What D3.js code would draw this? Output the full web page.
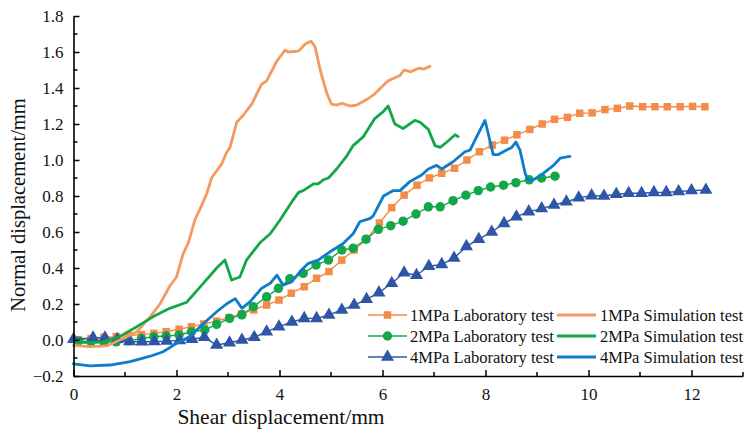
<!DOCTYPE html>
<html>
<head>
<meta charset="utf-8">
<script src="https://cdn.jsdelivr.net/npm/d3@7/dist/d3.min.js"></script>
<style>
  html, body { margin: 0; padding: 0; background: #fff; }
  svg { display: block; }
  text { font-family: "Liberation Serif", "Times New Roman", serif; fill: #111; }
</style>
</head>
<body>
<svg id="chart" width="746" height="434"></svg>
<script>
// Shear displacement (mm) vs normal displacement (mm)

// 1 MPa laboratory test
const lab1X = [0.10, 0.34, 0.59, 0.83, 1.07, 1.32, 1.56, 1.80, 2.05, 2.29, 2.53, 2.78, 3.02, 3.26, 3.50, 3.75, 3.99, 4.23, 4.48, 4.72, 4.96, 5.21, 5.45, 5.69, 5.94, 6.18, 6.42, 6.67, 6.91, 7.15, 7.40, 7.64, 7.88, 8.13, 8.37, 8.61, 8.86, 9.10, 9.34, 9.59, 9.83, 10.07, 10.32, 10.56, 10.80, 11.05, 11.29, 11.53, 11.78, 12.02, 12.26];
const lab1Y = [0.000, 0.008, 0.015, 0.019, 0.025, 0.030, 0.037, 0.046, 0.060, 0.074, 0.089, 0.105, 0.125, 0.145, 0.167, 0.194, 0.222, 0.260, 0.296, 0.343, 0.380, 0.444, 0.500, 0.560, 0.650, 0.735, 0.805, 0.860, 0.900, 0.926, 0.954, 1.000, 1.046, 1.083, 1.110, 1.140, 1.170, 1.200, 1.226, 1.237, 1.260, 1.262, 1.280, 1.287, 1.300, 1.296, 1.296, 1.296, 1.296, 1.298, 1.296];

// 2 MPa laboratory test
const lab2X = [0.10, 0.34, 0.59, 0.83, 1.07, 1.32, 1.56, 1.80, 2.05, 2.29, 2.55, 2.78, 3.03, 3.27, 3.49, 3.75, 3.98, 4.20, 4.46, 4.71, 4.95, 5.21, 5.43, 5.68, 5.92, 6.16, 6.40, 6.65, 6.89, 7.12, 7.37, 7.62, 7.86, 8.10, 8.35, 8.59, 8.85, 9.09, 9.35];
const lab2Y = [-0.005, -0.010, -0.012, -0.010, -0.005, 0.008, 0.018, 0.022, 0.028, 0.046, 0.056, 0.087, 0.120, 0.140, 0.185, 0.240, 0.287, 0.340, 0.370, 0.417, 0.444, 0.500, 0.510, 0.560, 0.615, 0.635, 0.660, 0.700, 0.740, 0.740, 0.774, 0.805, 0.830, 0.850, 0.860, 0.874, 0.890, 0.900, 0.910];

// 4 MPa laboratory test
const lab4X = [0.00, 0.38, 0.61, 0.85, 1.09, 1.33, 1.57, 1.81, 2.06, 2.30, 2.54, 2.78, 3.03, 3.27, 3.51, 3.75, 3.99, 4.24, 4.48, 4.72, 4.96, 5.21, 5.45, 5.69, 5.93, 6.18, 6.42, 6.66, 6.90, 7.15, 7.39, 7.63, 7.87, 8.12, 8.36, 8.60, 8.84, 9.09, 9.33, 9.57, 9.81, 10.06, 10.30, 10.54, 10.78, 11.03, 11.27, 11.51, 11.75, 12.00, 12.28];
const lab4Y = [0.004, 0.012, 0.012, 0.004, -0.008, -0.010, -0.008, -0.006, -0.002, 0.004, 0.015, -0.028, -0.015, 0.000, 0.015, 0.046, 0.074, 0.100, 0.120, 0.120, 0.139, 0.167, 0.194, 0.226, 0.263, 0.315, 0.374, 0.360, 0.410, 0.420, 0.455, 0.520, 0.560, 0.600, 0.648, 0.685, 0.713, 0.730, 0.750, 0.768, 0.790, 0.802, 0.800, 0.810, 0.815, 0.815, 0.820, 0.820, 0.825, 0.830, 0.833];

// 1 MPa simulation test
const sim1X = [0.00, 0.32, 0.64, 0.90, 1.23, 1.49, 1.68, 1.87, 2.00, 2.13, 2.23, 2.36, 2.46, 2.59, 2.68, 2.88, 2.97, 3.04, 3.17, 3.30, 3.46, 3.65, 3.75, 3.95, 4.11, 4.17, 4.37, 4.50, 4.61, 4.69, 4.79, 4.92, 5.01, 5.11, 5.21, 5.37, 5.50, 5.66, 5.82, 6.11, 6.34, 6.42, 6.55, 6.70, 6.80, 6.92];
const sim1Y = [-0.030, -0.037, -0.033, 0.000, 0.046, 0.130, 0.200, 0.300, 0.350, 0.480, 0.540, 0.670, 0.730, 0.815, 0.900, 0.980, 1.040, 1.070, 1.210, 1.250, 1.310, 1.420, 1.440, 1.550, 1.610, 1.600, 1.605, 1.644, 1.660, 1.630, 1.500, 1.370, 1.310, 1.305, 1.315, 1.300, 1.305, 1.330, 1.360, 1.440, 1.470, 1.500, 1.490, 1.510, 1.505, 1.520];

// 2 MPa simulation test
const sim2X = [0.00, 0.32, 0.58, 0.90, 1.23, 1.55, 1.87, 2.20, 2.52, 2.78, 2.94, 3.07, 3.23, 3.36, 3.62, 3.82, 4.01, 4.27, 4.37, 4.46, 4.66, 4.75, 4.85, 4.95, 5.11, 5.30, 5.43, 5.63, 5.85, 6.02, 6.11, 6.24, 6.40, 6.63, 6.73, 6.89, 7.02, 7.12, 7.25, 7.41, 7.47];
const sim2Y = [-0.010, -0.015, -0.010, 0.020, 0.074, 0.130, 0.176, 0.210, 0.315, 0.400, 0.444, 0.333, 0.350, 0.444, 0.540, 0.590, 0.667, 0.780, 0.820, 0.830, 0.867, 0.867, 0.890, 0.900, 0.950, 1.020, 1.080, 1.130, 1.230, 1.270, 1.300, 1.200, 1.175, 1.220, 1.210, 1.170, 1.080, 1.070, 1.100, 1.140, 1.130];

// 4 MPa simulation test
const sim4X = [0.00, 0.32, 0.71, 1.10, 1.49, 1.74, 2.00, 2.26, 2.52, 2.78, 2.97, 3.14, 3.27, 3.43, 3.65, 3.82, 3.95, 4.07, 4.24, 4.40, 4.56, 4.75, 4.98, 5.24, 5.43, 5.56, 5.76, 5.82, 6.02, 6.21, 6.34, 6.53, 6.76, 6.89, 7.05, 7.15, 7.37, 7.60, 7.70, 7.83, 7.99, 8.05, 8.15, 8.25, 8.41, 8.51, 8.59, 8.67, 8.77, 8.83, 8.93, 9.12, 9.32, 9.45, 9.64];
const sim4Y = [-0.133, -0.144, -0.139, -0.120, -0.090, -0.065, -0.019, 0.020, 0.090, 0.157, 0.200, 0.230, 0.176, 0.213, 0.287, 0.315, 0.360, 0.305, 0.324, 0.380, 0.426, 0.444, 0.490, 0.537, 0.590, 0.657, 0.676, 0.690, 0.800, 0.830, 0.830, 0.880, 0.917, 0.950, 0.970, 0.950, 0.990, 1.046, 1.055, 1.130, 1.220, 1.150, 1.030, 1.030, 1.055, 1.070, 1.100, 1.055, 0.926, 0.890, 0.890, 0.926, 0.970, 1.010, 1.020];

// Axis ticks
const xTicks = [0, 2, 4, 6, 8, 10, 12];
const yTicks = [-0.2, 0.0, 0.2, 0.4, 0.6, 0.8, 1.0, 1.2, 1.4, 1.6, 1.8];

const labels = {
  lab1: "1MPa Laboratory test", sim1: "1MPa Simulation test",
  lab2: "2MPa Laboratory test", sim2: "2MPa Simulation test",
  lab4: "4MPa Laboratory test", sim4: "4MPa Simulation test"
};

const C = {
  orangeLab: "#f28c48", orangeSim: "#f59a5e",
  green: "#13a74a",
  blueLab: "#2f56a6", blueSim: "#0d7ccb"
};

const svg = d3.select("#chart");
const margin = { left: 73.5, right: 3, top: 16, bottom: 58 };
const W = 746, H = 434;

const x = d3.scaleLinear().domain([0, 13]).range([margin.left, W - margin.right]);
const y = d3.scaleLinear().domain([-0.2, 1.8]).range([H - margin.bottom, margin.top]);

const zip = (xs, ys) => xs.map((v, i) => [v, ys[i]]);
const line = d3.line().x(d => x(d[0])).y(d => y(d[1]));

// plotted series, drawn in this order
const series = [
  { key: "lab1", data: zip(lab1X, lab1Y), color: C.orangeLab, width: 1.4, marker: "square" },
  { key: "lab2", data: zip(lab2X, lab2Y), color: C.green, width: 1.4, marker: "circle" },
  { key: "lab4", data: zip(lab4X, lab4Y), color: C.blueLab, width: 1.4, marker: "triangle" },
  { key: "sim1", data: zip(sim1X, sim1Y), color: C.orangeSim, width: 2.8 },
  { key: "sim2", data: zip(sim2X, sim2Y), color: C.green, width: 2.8 },
  { key: "sim4", data: zip(sim4X, sim4Y), color: C.blueSim, width: 2.8 }
];

const symbols = {
  square: d3.symbol().type(d3.symbolSquare).size(56),
  circle: d3.symbol().type(d3.symbolCircle).size(70),
  triangle: d3.symbol().type(d3.symbolTriangle).size(74)
};

const plot = svg.append("g");

series.forEach(s => {
  plot.append("path")
    .datum(s.data)
    .attr("fill", "none")
    .attr("stroke", s.color)
    .attr("stroke-width", s.width)
    .attr("stroke-linejoin", "round")
    .attr("stroke-linecap", "round")
    .attr("d", line);
  if (s.marker) {
    plot.append("g").selectAll("path")
      .data(s.data)
      .join("path")
      .attr("d", symbols[s.marker]())
      .attr("fill", s.color)
      .attr("transform", d => `translate(${x(d[0])},${y(d[1])})`);
  }
});

// Axes: major ticks labelled, minor ticks in between, all pointing inward
const axisG = svg.append("g");
const x0 = x(0), yBase = y(-0.2);

const xAxis = d3.axisBottom(x).tickValues(xTicks).tickFormat(d3.format("d")).tickSizeInner(-6).tickSizeOuter(0).tickPadding(12);
const gx = axisG.append("g").attr("transform", `translate(0,${yBase})`).call(xAxis);
gx.selectAll(".tick text").attr("font-size", 17).attr("font-family", "Liberation Serif");
gx.append("g").selectAll("line")
  .data(d3.range(1, 14, 2))
  .join("line")
  .attr("x1", d => x(d)).attr("x2", d => x(d))
  .attr("y1", 0).attr("y2", -4)
  .attr("stroke", "#000").attr("stroke-width", 1.5);

const yAxis = d3.axisLeft(y).tickValues(yTicks).tickFormat(d3.format(".1f")).tickSizeInner(-6).tickSizeOuter(0).tickPadding(10);
const gy = axisG.append("g").attr("transform", `translate(${x0},0)`).call(yAxis);
gy.selectAll(".tick text").attr("font-size", 17).attr("font-family", "Liberation Serif")
  .text(d => d < 0 ? "\u2212" + Math.abs(d).toFixed(1) : d.toFixed(1));
gy.append("g").selectAll("line")
  .data(d3.range(-0.1, 1.8, 0.2))
  .join("line")
  .attr("x1", 0).attr("x2", 4)
  .attr("y1", d => y(d)).attr("y2", d => y(d))
  .attr("stroke", "#000").attr("stroke-width", 1.5);

axisG.selectAll(".domain").attr("stroke", "#000").attr("stroke-width", 1.6);
axisG.selectAll(".tick line").attr("stroke", "#000").attr("stroke-width", 1.5);

// Axis titles
svg.append("text")
  .attr("x", 281).attr("y", 424)
  .attr("text-anchor", "middle")
  .attr("font-size", 21.5)
  .text("Shear displacement/mm");

svg.append("text")
  .attr("transform", `translate(25,205) rotate(-90)`)
  .attr("text-anchor", "middle")
  .attr("font-size", 20.5)
  .text("Normal displacement/mm");

// Legend: two columns, three rows
const legendRows = [["lab1", "sim1"], ["lab2", "sim2"], ["lab4", "sim4"]];
const legendCols = [{ lineX: 368, textX: 410 }, { lineX: 557, textX: 600 }];
const rowY = [315, 336, 357];
const legend = svg.append("g");
legendRows.forEach((row, r) => {
  row.forEach((key, c) => {
    const s = series.find(t => t.key === key);
    const col = legendCols[c];
    const yy = rowY[r];
    legend.append("line")
      .attr("x1", col.lineX).attr("x2", col.lineX + 39)
      .attr("y1", yy).attr("y2", yy)
      .attr("stroke", s.color).attr("stroke-width", s.marker ? 1.4 : 2.8);
    if (s.marker) {
      legend.append("path")
        .attr("d", symbols[s.marker]())
        .attr("fill", s.color)
        .attr("transform", `translate(${col.lineX + 19.5},${yy})`);
    }
    legend.append("text")
      .attr("x", col.textX).attr("y", yy + 5.5)
      .attr("font-size", 16.5)
      .text(labels[key]);
  });
});
</script>
</body>
</html>
